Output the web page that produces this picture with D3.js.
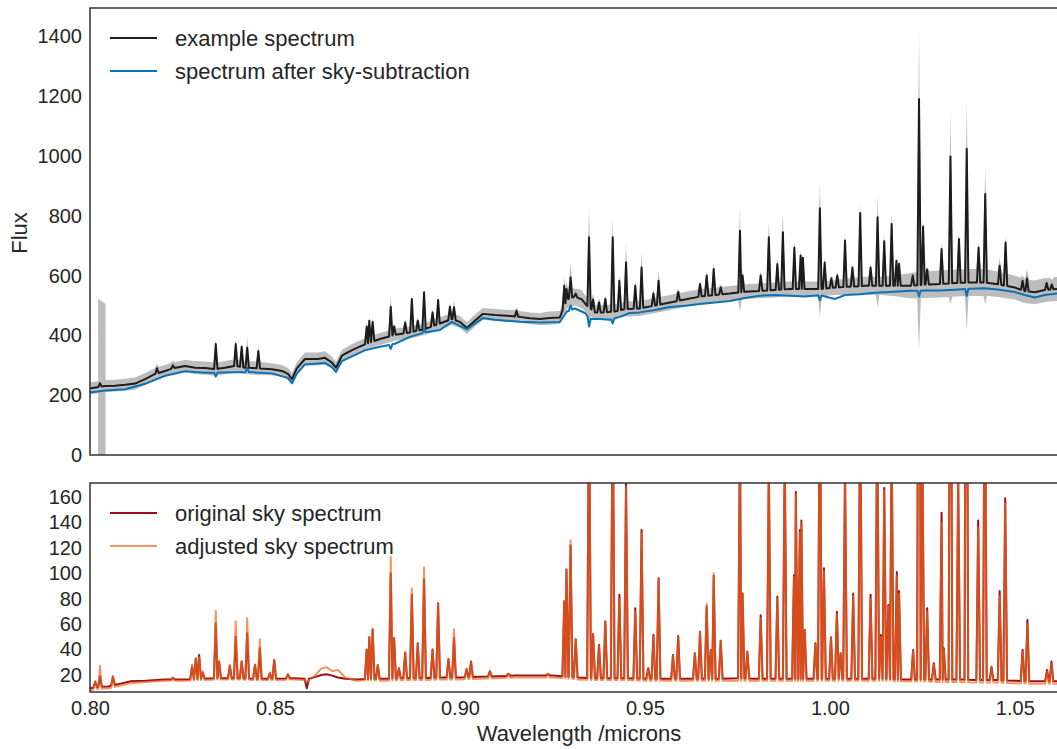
<!DOCTYPE html>
<html>
<head>
<meta charset="utf-8">
<script src="https://cdn.jsdelivr.net/npm/d3@7"></script>
<style>
  body { margin: 0; background: #fff; }
  svg { display: block; }
  text { font-family: "Liberation Sans", Arial, sans-serif; fill: #262626; }
</style>
</head>
<body>
<svg id="chart" width="1057" height="749"></svg>
<script>
// ---------- data ----------
// object spectrum continuum: [wavelength (micron), flux, 1-sigma error]
const objCont = [
  [0.8000,223,20],[0.8016,226,20],[0.8041,231,20],[0.8068,232,20],[0.8095,235,20],[0.8122,239,20],
  [0.8149,254,20],[0.8176,271,20],[0.8203,281,20],[0.8224,290,20],[0.8257,298,20],[0.8284,292,22],
  [0.8311,291,22],[0.8338,287,22],[0.8365,292,22],[0.8392,298,22],[0.8419,292,22],[0.8454,290,22],
  [0.8492,287,20],[0.8519,281,20],[0.8535,271,20],[0.8546,254,20],[0.8559,290,20],[0.8581,321,22],
  [0.8616,321,22],[0.8635,325,22],[0.8654,309,20],[0.8665,292,20],[0.8681,332,20],[0.8708,351,20],
  [0.8743,370,20],[0.8784,388,20],[0.8824,402,20],[0.8865,410,20],[0.8905,421,20],[0.8946,440,20],
  [0.8978,455,20],[0.9000,445,20],[0.9019,425,20],[0.9041,450,20],[0.9062,472,20],[0.9095,468,20],
  [0.9127,466,20],[0.9162,462,20],[0.9189,457,20],[0.9216,455,20],[0.9243,458,22],[0.9270,460,22],
  [0.9289,520,30],[0.9311,530,30],[0.9330,520,30],[0.9343,500,25],[0.9365,477,25],[0.9392,477,25],
  [0.9419,480,25],[0.9446,488,25],[0.9486,490,25],[0.9527,500,25],[0.9568,510,25],[0.9608,520,25],
  [0.9649,530,25],[0.9689,535,25],[0.9730,540,25],[0.9770,546,25],[0.9811,549,25],[0.9851,552,25],
  [0.9892,555,25],[0.9932,555,25],[0.9973,555,25],[1.0014,560,25],[1.0054,563,28],[1.0095,566,30],
  [1.0135,566,30],[1.0176,566,35],[1.0216,566,42],[1.0257,570,45],[1.0297,572,45],[1.0338,575,45],
  [1.0378,577,45],[1.0419,577,45],[1.0459,570,42],[1.0500,560,40],[1.0527,548,40],[1.0554,544,40],
  [1.0581,552,40],[1.0614,555,40]
];

// emission spikes in the object spectrum: [wavelength, peak flux, upper error edge]
const objLines = [
  [0.8027,240,255],[0.8181,290,305],[0.8224,300,315],[0.8340,371,385],[0.8394,371,385],[0.8410,362,372],
  [0.8425,359,392],[0.8455,348,362],[0.8748,430,445],[0.8755,449,460],[0.8764,445,462],[0.8813,496,538],
  [0.8822,430,440],[0.8852,443,455],[0.8870,522,528],[0.8886,449,462],[0.8903,544,552],[0.8926,477,487],
  [0.8941,518,524],[0.8973,496,510],[0.8984,494,516],[0.9153,482,492],[0.9282,566,600],[0.9288,555,580],
  [0.9299,594,644],[0.9313,540,555],[0.9349,728,834],[0.9360,520,540],[0.9376,510,525],[0.9393,522,535],
  [0.9413,728,795],[0.9431,583,600],[0.9449,644,711],[0.9474,566,580],[0.9491,627,678],[0.9523,540,550],
  [0.9537,583,616],[0.9590,545,555],[0.9649,572,580],[0.9667,600,615],[0.9686,622,640],[0.9705,560,570],
  [0.9757,750,834],[0.9764,600,620],[0.9813,600,615],[0.9835,728,780],[0.9858,639,660],[0.9873,745,812],
  [0.9904,694,715],[0.9921,667,690],[0.9927,660,670],[0.9973,825,918],[0.9986,644,660],[1.0004,590,600],
  [1.0020,600,610],[1.0041,717,740],[1.0061,627,640],[1.0082,809,840],[1.0110,627,640],[1.0129,795,868],
  [1.0147,715,740],[1.0167,773,810],[1.0180,650,660],[1.0187,640,650],[1.0224,600,610],[1.0241,1191,1426],
  [1.0252,764,780],[1.0263,620,630],[1.0302,689,710],[1.0326,998,1152],[1.0349,722,740],[1.0370,1024,1188],
  [1.0402,694,710],[1.0420,873,968],[1.0459,633,660],[1.0475,711,730],[1.0521,583,600],[1.0533,590,620],
  [1.0586,575,590],[1.0600,570,585]
];

// lower error edge where it dips under the continuum band: [wavelength, flux]
const objErrDips = [
  [0.9349,422],[0.9413,445],[0.9757,480],[0.9973,460],[1.0129,495],[1.0241,348],
  [1.0326,505],[1.0370,415],[1.0420,505]
];

// bad-pixel column with a huge error: wavelength edges, upper and lower error edge
const maskWave = [0.8022, 0.8042];
const maskHi = [523, 505];
const maskLo = [-60, -60];

// sky-subtracted spectrum: [wavelength, flux]
const subCont = [
  [0.8000,209],[0.8041,216],[0.8095,220],[0.8149,238],[0.8203,265],[0.8257,280],[0.8311,275],
  [0.8365,276],[0.8419,278],[0.8492,273],[0.8535,258],[0.8546,240],[0.8559,272],[0.8581,303],
  [0.8635,308],[0.8654,294],[0.8665,278],[0.8681,314],[0.8708,330],[0.8743,350],[0.8784,362],
  [0.8824,372],[0.8865,395],[0.8905,410],[0.8946,418],[0.8978,445],[0.9000,432],[0.9019,420],
  [0.9041,440],[0.9062,458],[0.9095,452],[0.9127,449],[0.9162,446],[0.9216,443],[0.9270,445],
  [0.9289,480],[0.9311,490],[0.9338,475],[0.9351,455],[0.9378,455],[0.9405,452],[0.9432,462],
  [0.9459,475],[0.9486,477],[0.9527,485],[0.9568,495],[0.9608,499],[0.9649,505],[0.9689,510],
  [0.9730,515],[0.9770,525],[0.9811,533],[0.9851,535],[0.9892,533],[0.9932,530],[0.9973,535],
  [1.0000,526],[1.0014,522],[1.0041,535],[1.0081,538],[1.0122,543],[1.0162,545],[1.0216,549],
  [1.0257,550],[1.0297,550],[1.0338,553],[1.0378,556],[1.0419,558],[1.0459,553],[1.0500,545],
  [1.0527,535],[1.0554,527],[1.0581,535],[1.0614,540]
];

// residuals left at strong sky lines after subtraction: [wavelength, flux]
const subResid = [
  [0.8340,262],[0.8425,292],[0.8813,355],[0.8903,420],[0.9299,500],[0.9349,430],
  [0.9413,440],[0.9973,518],[1.0241,530],[1.0370,532]
];

// sky continuum: [wavelength, original, adjusted]
const skyCont = [
  [0.800,9.5,8],[0.802,10.5,9],[0.805,11,9.5],[0.808,13,11.5],[0.811,15,13.5],[0.815,15.5,14.5],
  [0.820,16.5,15.5],[0.825,16.5,15.5],[0.830,17,16],[0.835,17.5,16.5],[0.840,17.5,16.5],[0.845,17,16],
  [0.850,17,16],[0.855,17.5,16.5],[0.8580,17,16],[0.8586,9.5,14.5],[0.8592,17,16],[0.861,18.5,20],
  [0.8625,20,25],[0.8640,20.5,26],[0.8655,19.5,23],[0.867,18,24],[0.869,17,18],[0.872,16.5,15.5],
  [0.876,17,16],[0.880,17,15.5],[0.885,17.5,16],[0.890,17.5,16],[0.895,18,16.5],[0.900,18,16.5],
  [0.905,18.5,17],[0.910,19,17.5],[0.915,19.5,18],[0.920,19.5,18],[0.925,19.5,18],[0.928,19,17.5],
  [0.932,18,16.5],[0.936,17.5,16],[0.940,17.5,16],[0.945,17.5,16],[0.950,17,15.5],[0.955,17,15.5],
  [0.960,17,15.5],[0.965,17,15.5],[0.970,17,15.5],[0.975,17.5,15.5],[0.980,17,15.5],[0.985,17,15.5],
  [0.990,17,15.5],[0.995,17,15.5],[1.000,17,15.5],[1.005,17,15.5],[1.010,17,15.5],[1.015,17,15.5],
  [1.020,16.5,15],[1.025,16.5,15],[1.030,16.5,14.5],[1.035,16.5,14.5],[1.040,16,14],[1.045,16,14],
  [1.050,15.5,13.5],[1.055,15,13],[1.0615,15,13]
];

// OH sky emission lines: [wavelength, original peak, adjusted peak]
const skyLines = [
  [0.8014,14.7,15],[0.8027,19,27],[0.8062,18.7,19],[0.8224,17.8,17.5],[0.8276,26.5,28],[0.8286,33,33],
  [0.8295,35.7,34],[0.8305,21.8,23],[0.8340,60.7,70.6],[0.8349,30.5,31],[0.8378,27,28],[0.8394,50,62],
  [0.8410,30.5,31],[0.8425,52.8,64.6],[0.8446,28,28],[0.8459,41,48],[0.8486,21.3,22],[0.8498,31.8,32],
  [0.8535,20.5,20.5],[0.8748,40,40],[0.8755,49.7,50],[0.8764,56,56],[0.8778,27.9,28],[0.8813,100,112.7],
  [0.8822,49,49],[0.8835,25.3,25],[0.8852,37.6,37.6],[0.8870,83,88],[0.8886,45,45],[0.8903,95.3,104.5],
  [0.8926,40,40],[0.8941,76.5,76.5],[0.8969,32.6,32.6],[0.8984,49,56],[0.9018,24.7,24.7],[0.9030,30.5,30.5],
  [0.9081,23,23],[0.9131,21,21],[0.9238,21,21],[0.9282,78,78],[0.9288,103,103],[0.9299,122,126],
  [0.9313,48,48],[0.9349,250,250],[0.9360,52.3,52],[0.9376,43.6,43],[0.9393,62,62],[0.9413,250,250],
  [0.9431,83,80],[0.9449,172,168],[0.9474,72.5,70],[0.9491,134,132],[0.9509,25.3,25],[0.9523,51.5,50],
  [0.9537,96,95],[0.9576,35.7,35],[0.9590,50.7,50],[0.9635,37,37],[0.9649,54,54],[0.9667,73.8,76],
  [0.9678,39.7,39],[0.9686,98,100],[0.9705,47,47],[0.9757,210,210],[0.9764,84,84],[0.9777,38.4,38],
  [0.9813,67,65],[0.9835,185,185],[0.9858,81.6,80],[0.9878,195,195],[0.9903,98.7,97],[0.9908,164,162],
  [0.9919,134,132],[0.9923,141.5,140],[0.9932,55.4,55],[0.9961,45,45],[0.9973,270,270],[0.9984,104,102],
  [1.0003,49.7,49],[1.0019,69.8,68],[1.0029,37,37],[1.0041,180,180],[1.0063,83.8,82],[1.0082,250,250],
  [1.0110,83,80],[1.0128,230,230],[1.0138,51.5,50],[1.0147,167,165],[1.0158,75,74],[1.0167,210,210],
  [1.0181,101,98],[1.0187,86,84],[1.0225,39.7,39],[1.0241,620,620],[1.0250,200,200],[1.0263,72.5,70],
  [1.0281,29.2,28],[1.0302,147.6,140],[1.0308,41,40],[1.0326,430,430],[1.0347,172,170],[1.0369,455,455],
  [1.0401,141.5,136],[1.0419,300,300],[1.0437,26.5,26],[1.0459,86,82],[1.0474,159,155],[1.0521,39.7,38],
  [1.0534,63.3,60],[1.0587,23.9,23],[1.0599,30.5,29]
];

// tick labels
const xTicks = [0.80, 0.85, 0.90, 0.95, 1.00, 1.05];
const yTopTicks = [0, 200, 400, 600, 800, 1000, 1200, 1400];
const yBotTicks = [20, 40, 60, 80, 100, 120, 140, 160];

const legendTop = [
  { label: "example spectrum", color: "#1c1c1c", opacity: 1 },
  { label: "spectrum after sky-subtraction", color: "#0b72b5", opacity: 1 }
];
const legendBot = [
  { label: "original sky spectrum", color: "#9a0f1c", opacity: 1 },
  { label: "adjusted sky spectrum", color: "#f0661a", opacity: 0.7 }
];

// ---------- helpers ----------
// continuum value at wavelength w (linear between samples)
function contAt(cont, w) {
  const i = d3.bisector(d => d[0]).right(cont, w);
  if (i <= 0) return cont[0][1];
  if (i >= cont.length) return cont[cont.length - 1][1];
  const a = cont[i - 1], b = cont[i];
  return a[1] + (b[1] - a[1]) * (w - a[0]) / (b[0] - a[0]);
}
// merge narrow line profiles onto a continuum: each line is a spike of half-width hw;
// neighbouring lines closer than 2*hw meet in a valley halfway between them
function withLines(cont, lines, hw) {
  const sorted = lines.slice().sort((a, b) => a[0] - b[0]);
  const pts = cont.filter(p => !sorted.some(l => Math.abs(l[0] - p[0]) < hw)).map(p => [p[0], p[1]]);
  sorted.forEach(([w, v], i) => {
    const prev = i > 0 ? sorted[i - 1][0] : -Infinity;
    const next = i < sorted.length - 1 ? sorted[i + 1][0] : Infinity;
    const lo = Math.max(w - hw, (w + prev) / 2);
    const hi = Math.min(w + hw, (w + next) / 2);
    pts.push([lo, contAt(cont, lo)], [w, v], [hi, contAt(cont, hi)]);
  });
  return pts.sort((a, b) => a[0] - b[0]);
}

// ---------- layout ----------
const svg = d3.select("#chart");
const W = 1057;
const left = 90;
const top1 = 8, bot1 = 455;
const top2 = 483, bot2 = 692;

const x = d3.scaleLinear().domain([0.80, 1.0614]).range([left, W]);
const yTop = d3.scaleLinear().domain([0, 1495]).range([bot1, top1]);
const yBot = d3.scaleLinear().domain([6.6, 171]).range([bot2, top2]);

const defs = svg.append("defs");
defs.append("clipPath").attr("id", "clipTop")
  .append("rect").attr("x", left).attr("y", top1).attr("width", W - left + 5).attr("height", bot1 - top1);
defs.append("clipPath").attr("id", "clipBot")
  .append("rect").attr("x", left).attr("y", top2).attr("width", W - left + 5).attr("height", bot2 - top2);

// ---------- top panel: object spectrum ----------
const gTop = svg.append("g").attr("clip-path", "url(#clipTop)");
const lineTop = d3.line().x(d => x(d[0])).y(d => yTop(d[1]));

// error band: upper edge forward, lower edge back
const bandUpper = withLines(objCont.map(d => [d[0], d[1] + d[2]]), objLines.map(d => [d[0], d[2]]), 0.0006);
const bandLower = withLines(objCont.map(d => [d[0], d[1] - d[2]]), objErrDips, 0.0005);
gTop.append("path")
  .attr("d", lineTop(bandUpper.concat(bandLower.slice().reverse())) + "Z")
  .attr("fill", "#bdbdbd").attr("stroke", "none");

// masked column
const maskPts = maskWave.map((w, i) => ({ w, hi: maskHi[i], lo: maskLo[i] }));
gTop.append("path")
  .attr("d", d3.area().x(d => x(d.w)).y0(d => yTop(d.lo)).y1(d => yTop(d.hi))(maskPts))
  .attr("fill", "#bdbdbd");

// example spectrum
gTop.append("path")
  .attr("d", lineTop(withLines(objCont.map(d => [d[0], d[1]]), objLines.map(d => [d[0], d[1]]), 0.00045)))
  .attr("fill", "none").attr("stroke", legendTop[0].color).attr("stroke-width", 2)
  .attr("stroke-linejoin", "round");

// sky-subtracted spectrum
gTop.append("path")
  .attr("d", lineTop(withLines(subCont, subResid, 0.00045)))
  .attr("fill", "none").attr("stroke", legendTop[1].color).attr("stroke-width", 2)
  .attr("stroke-linejoin", "round");

// ---------- bottom panel: sky spectra ----------
const gBot = svg.append("g").attr("clip-path", "url(#clipBot)");
const lineBot = d3.line().x(d => x(d[0])).y(d => yBot(d[1]));

gBot.append("path")
  .attr("d", lineBot(withLines(skyCont.map(d => [d[0], d[1]]), skyLines.map(d => [d[0], d[1]]), 0.0005)))
  .attr("fill", "none").attr("stroke", legendBot[0].color).attr("stroke-width", 2)
  .attr("stroke-linejoin", "round");
gBot.append("path")
  .attr("d", lineBot(withLines(skyCont.map(d => [d[0], d[2]]), skyLines.map(d => [d[0], d[2]]), 0.0005)))
  .attr("fill", "none").attr("stroke", legendBot[1].color).attr("stroke-opacity", legendBot[1].opacity)
  .attr("stroke-width", 2).attr("stroke-linejoin", "round");

// ---------- frames ----------
function frame(t, b) {
  svg.append("path")
    .attr("d", `M${W + 2},${t}H${left}V${b}H${W + 2}`)
    .attr("fill", "none").attr("stroke", "#333").attr("stroke-width", 1.5);
}
frame(top1, bot1);
frame(top2, bot2);

// ---------- axes ----------
function styleAxis(g) {
  g.select(".domain").remove();
  g.selectAll("text").attr("font-size", 20).attr("fill", "#262626")
    .style("font-family", "'Liberation Sans', Arial, sans-serif");
}
svg.append("g").attr("transform", `translate(${left},0)`)
  .call(d3.axisLeft(yTop).tickValues(yTopTicks).tickSize(0).tickPadding(8).tickFormat(d3.format("d")))
  .call(styleAxis);
svg.append("g").attr("transform", `translate(${left},0)`)
  .call(d3.axisLeft(yBot).tickValues(yBotTicks).tickSize(0).tickPadding(8).tickFormat(d3.format("d")))
  .call(styleAxis);
svg.append("g").attr("transform", `translate(0,${bot2})`)
  .call(d3.axisBottom(x).tickValues(xTicks).tickSize(0).tickPadding(9).tickFormat(d3.format(".2f")))
  .call(styleAxis);

svg.append("text")
  .attr("transform", "translate(27,233) rotate(-90)")
  .attr("text-anchor", "middle").attr("font-size", 22).text("Flux");
svg.append("text")
  .attr("x", 579).attr("y", 741)
  .attr("text-anchor", "middle").attr("font-size", 22).text("Wavelength /microns");

// ---------- legends ----------
function legend(items, y0, dy) {
  items.forEach((it, i) => {
    const y = y0 + i * dy;
    svg.append("line").attr("x1", 110).attr("x2", 157).attr("y1", y).attr("y2", y)
      .attr("stroke", it.color).attr("stroke-opacity", it.opacity).attr("stroke-width", 2);
    svg.append("text").attr("x", 175).attr("y", y).attr("dy", "0.36em")
      .attr("font-size", 22).text(it.label);
  });
}
legend(legendTop, 38, 33);
legend(legendBot, 513, 33);
</script>
</body>
</html>
